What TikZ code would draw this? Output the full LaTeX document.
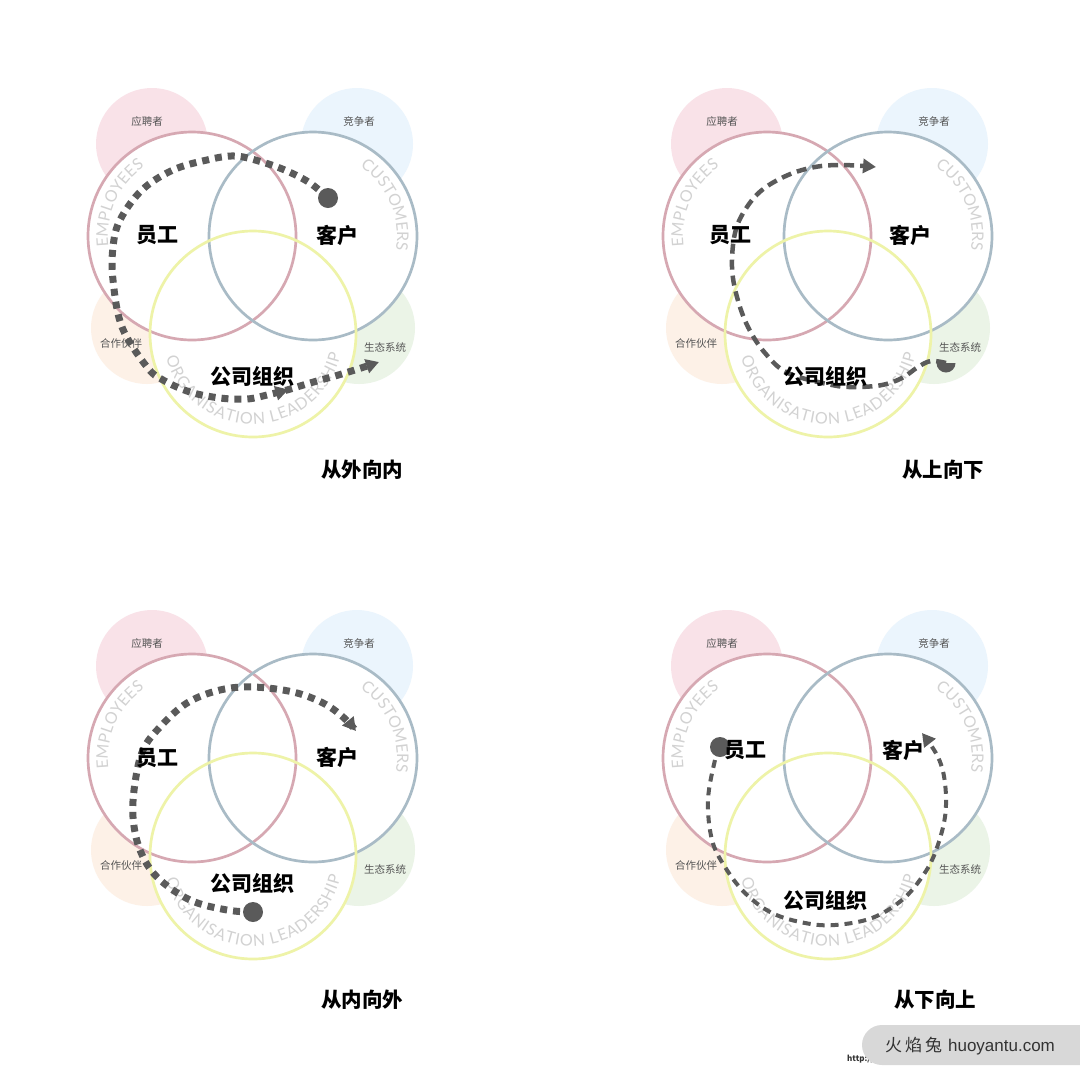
\documentclass[tikz,border=0pt]{standalone}
\usepackage{fontspec}
\setmainfont{Noto Sans CJK SC}
\newfontfamily\latof{Lato}
\newfontfamily\wmlatin{Liberation Sans}
\usetikzlibrary{decorations.text,decorations.markings,arrows.meta}
\definecolor{bgpink}{HTML}{F9E2E8}
\definecolor{bgblue}{HTML}{EBF5FD}
\definecolor{bgorange}{HTML}{FDF1E7}
\definecolor{bggreen}{HTML}{EBF4E7}
\definecolor{ringpink}{HTML}{D6A8B2}
\definecolor{ringblue}{HTML}{A9BBC6}
\definecolor{ringyellow}{HTML}{EEF3A8}
\definecolor{curvegray}{HTML}{D2D2D2}
\definecolor{smallgray}{HTML}{555555}
\definecolor{flowc}{HTML}{5A5A5A}
\definecolor{wmgray}{HTML}{D8D8D8}
\definecolor{wmtext}{HTML}{333333}

\tikzset{
  bgdisc/.style={circle, minimum size=112pt, inner sep=0pt, draw=none},
  ringfill/.style={circle, minimum size=208pt, inner sep=0pt, fill=white, draw=none},
  ring/.style={line width=2.7pt},
  biglabel/.style={font=\bfseries\fontsize{21}{25}\selectfont, text=black, inner sep=0pt},
  smalllabel/.style={font=\fontsize{10.5}{12}\selectfont, text=smallgray, inner sep=0pt},
  titlelabel/.style={font=\bfseries\fontsize{20.5}{24}\selectfont, text=black, inner sep=0pt},
  sqflow/.style={draw=flowc, line width=7pt, dash pattern=on 7pt off 6pt},
  dashflow/.style={draw=flowc, line width=4.5pt, dash pattern=on 10pt off 6pt},
  tipend/.style={-{Triangle[length=13pt,width=14pt]}},
  dotnode/.style={circle, fill=flowc, minimum size=20pt, inner sep=0pt},
  curvetext/.style={decorate, decoration={text along path, text align=fit to path, text color=curvegray, text={|\latof\fontsize{16}{16}\selectfont|#1}}},
}

\newcommand\venpanel[1]{%
  \node[bgdisc, fill=bgpink]   (#1-bgp) at (152,144) {};
  \node[bgdisc, fill=bgblue]   (#1-bgb) at (357,144) {};
  \node[bgdisc, fill=bgorange] (#1-bgo) at (147,328) {};
  \node[bgdisc, fill=bggreen]  (#1-bgg) at (359,328) {};
  \node[ringfill] (#1-emp) at (192,236) {};
  \node[ringfill] (#1-cus) at (313,236) {};
  \node[ringfill, minimum size=206pt] (#1-org) at (253,334) {};
  \draw[ring, ringpink] (#1-emp.center) circle[radius=104];
  \draw[ring, ringblue] (#1-cus.center) circle[radius=104];
  \draw[ring, ringyellow] (#1-org.center) circle[radius=103];
  \path[curvetext=EMPLOYEES] (#1-emp.center) ++(173:84) arc[start angle=173, end angle=234, radius=84];
  \path[curvetext=CUSTOMERS] (#1-cus.center) ++(-56:84) arc[start angle=-56, end angle=9, radius=84];
  \path[curvetext=ORGANISATION LEADERSHIP] (#1-org.center) ++(165:90) arc[start angle=165, end angle=13, radius=90];
  \node[smalllabel] (#1-l1) at (147,121) {应聘者};
  \node[smalllabel] (#1-l2) at (359,121) {竞争者};
  \node[smalllabel] (#1-l3) at (121,343) {合作伙伴};
  \node[smalllabel] (#1-l4) at (385,347) {生态系统};
}

\begin{document}
\begin{tikzpicture}[x=1pt,y=-1pt]
\useasboundingbox (0,0) rectangle (1080,1080);
\fill[white] (0,0) rectangle (1080,1080);

% ---------- top left: 从外向内 ----------
\begin{scope}[shift={(0,0)}]
  \venpanel{tl}
  \node[dotnode] (tl-dot) at (328,198) {};
  \coordinate (tl-end) at (379,362);
  \draw[sqflow, tipend, postaction={decorate}, decoration={markings, mark=at position 0.853 with {\arrow[flowc]{Triangle[length=13pt,width=14pt]}}}]
    plot[smooth, tension=0.6] coordinates {(tl-dot.center) (310,183) (287,171) (262,162) (235,156) (207,160) (173,170) (142,190) (120,220) (113,247) (113,280) (122,327) (147,367) (163,380) (190,392) (220,398) (247,399) (267,395) (287,390) (310,383) (335,376) (358,369) (tl-end)};
  \node[biglabel] (tl-a) at (157,235) {员工};
  \node[biglabel] (tl-b) at (337,235) {客户};
  \node[biglabel] (tl-c) at (252,377) {公司组织};
  \node[titlelabel] (tl-t) at (362,470) {从外向内};
\end{scope}

% ---------- top right: 从上向下 ----------
\begin{scope}[shift={(575,0)}]
  \venpanel{tr}
  \coordinate (tr-dot) at (371,363);
  \fill[flowc] (tr-dot) ++(9.5,0) arc[start angle=0, end angle=180, radius=9.5] -- cycle;
  \coordinate (tr-end) at (301,167);
  \draw[dashflow, tipend]
    plot[smooth, tension=0.6] coordinates {(tr-dot) (356,361) (343,367) (327,378) (307,385) (280,387) (257,385) (213,373) (190,353) (173,327) (162,297) (157,267) (160,233) (170,210) (187,190) (213,175) (240,167) (267,165) (tr-end)};
  \node[biglabel] (tr-a) at (155,235) {员工};
  \node[biglabel] (tr-b) at (335,235) {客户};
  \node[biglabel] (tr-c) at (250,377) {公司组织};
  \node[titlelabel] (tr-t) at (368,470) {从上向下};
\end{scope}

% ---------- bottom left: 从内向外 ----------
\begin{scope}[shift={(0,522)}]
  \venpanel{bl}
  \node[dotnode] (bl-dot) at (253,390) {};
  \coordinate (bl-end) at (356,209);
  \draw[sqflow, tipend]
    plot[smooth, tension=0.6] coordinates {(bl-dot.center) (227,388) (190,378) (157,355) (140,328) (133,295) (135,261) (143,228) (160,205) (187,181) (220,168) (253,165) (293,170) (323,181) (343,195) (bl-end)};
  \node[biglabel] (bl-a) at (157,236) {员工};
  \node[biglabel] (bl-b) at (337,235) {客户};
  \node[biglabel] (bl-c) at (252,361) {公司组织};
  \node[titlelabel] (bl-t) at (362,478) {从内向外};
\end{scope}

% ---------- bottom right: 从下向上 ----------
\begin{scope}[shift={(575,522)}]
  \venpanel{br}
  \node[dotnode] (br-dot) at (145,225) {};
  \coordinate (br-end) at (347,211);
  \draw[dashflow, line width=4pt, dash pattern=on 8pt off 6pt, tipend]
    plot[smooth, tension=0.6] coordinates {(br-dot.center) (140,238) (133,278) (137,318) (150,345) (170,371) (197,391) (230,401) (260,403) (297,396) (327,378) (347,355) (360,331) (370,295) (370,261) (363,235) (br-end)};
  \node[biglabel] (br-a) at (170,228) {员工};
  \node[biglabel] (br-b) at (328,228) {客户};
  \node[biglabel] (br-c) at (250,378) {公司组织};
  \node[titlelabel] (br-t) at (360,478) {从下向上};
\end{scope}

% ---------- watermark ----------
\node[anchor=west, inner sep=0pt, font=\bfseries\fontsize{8}{9}\selectfont, text=wmtext] (wm-url) at (847,1059) {http://};
\fill[wmgray, rounded corners=20pt] (862,1025) rectangle (1110,1065);
\node[inner sep=0pt, text=wmtext, font=\fontsize{17}{20}\selectfont] (wm) at (970,1046) {火\hspace{3pt}焰\hspace{3pt}兔\hspace{6pt}{\wmlatin huoyantu.com}};
\end{tikzpicture}
\end{document}
